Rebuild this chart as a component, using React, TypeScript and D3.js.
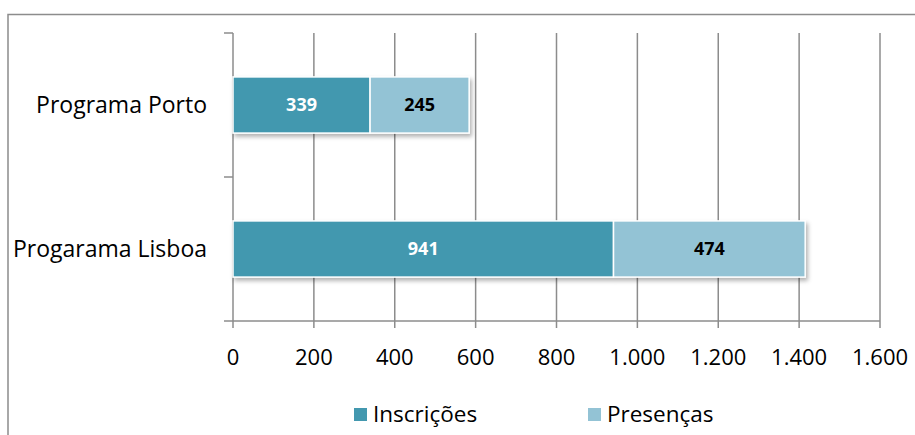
import React from "react";
import * as d3 from "d3";

const categories = ["Programa Porto", "Progarama Lisboa"];
const inscricoes = [339, 941];
const presencas = [245, 474];
const seriesNames = ["Inscrições", "Presenças"];
const xTicks = [0, 200, 400, 600, 800, 1000, 1200, 1400, 1600];

const W = 915;
const H = 435;
const colors = ["#4398AF", "#93C3D5"];
const labelColors = ["#ffffff", "#000000"];
const grid = "#8c8c8c";
const font = "'Open Sans', sans-serif";

export default function App() {
  const left = 233, right = 880, top = 33, bottom = 321;
  const x = d3.scaleLinear().domain([0, 1600]).range([left, right]);
  const y = d3.scaleBand().domain(categories).range([top, bottom]).paddingInner(0.61).paddingOuter(0.305);
  const fmt = (v: number) => d3.format(",")(v).replace(/,/g, ".");
  const stacks = categories.map((c, i) => {
    const vals = [inscricoes[i], presencas[i]];
    let acc = 0;
    return vals.map((v, s) => {
      const seg = { c, s, v, x0: acc, x1: acc + v };
      acc += v;
      return seg;
    });
  });
  const bw = y.bandwidth();
  return (
    <svg width={W} height={H} style={{ position: "absolute", left: 0, top: 0, background: "#fff" }}>
      <defs>
        <filter id="sh" x="-10%" y="-30%" width="120%" height="170%">
          <feDropShadow dx="2" dy="3" stdDeviation="2" floodColor="#000" floodOpacity="0.3" />
        </filter>
      </defs>
      <rect x={8} y={14.5} width={W + 20} height={H + 20} fill="#fff" stroke={grid} strokeWidth={1.5} />
      {/* grid */}
      {xTicks.map((t) => (
        <line key={"g" + t} x1={x(t)} x2={x(t)} y1={top} y2={bottom + 7} stroke={grid} strokeWidth={1.5} />
      ))}
      <line x1={left - 9} x2={right} y1={bottom} y2={bottom} stroke={grid} strokeWidth={1.5} />
      {[top, (top + bottom) / 2].map((yy, i) => (
        <line key={"yt" + i} x1={left - 9} x2={left} y1={yy} y2={yy} stroke={grid} strokeWidth={1.5} />
      ))}
      {/* bars */}
      {stacks.map((segs, i) => (
        <g key={"b" + i} filter="url(#sh)">
          {segs.map((sg) => (
            <rect
              key={sg.s}
              x={x(sg.x0)}
              y={y(sg.c)!}
              width={x(sg.x1) - x(sg.x0)}
              height={bw}
              fill={colors[sg.s]}
              stroke="#fff"
              strokeWidth={1.5}
            />
          ))}
        </g>
      ))}
      {stacks.map((segs, i) =>
        segs.map((sg) => (
          <text
            key={"l" + i + sg.s}
            x={(x(sg.x0) + x(sg.x1)) / 2}
            y={y(sg.c)! + bw / 2}
            dy="0.35em"
            textAnchor="middle"
            fontFamily={font}
            fontWeight="bold"
            fontSize={18}
            fill={labelColors[sg.s]}
          >
            {sg.v}
          </text>
        ))
      )}
      {/* category labels */}
      {categories.map((c) => (
        <text key={c} x={207} y={y(c)! + bw / 2} dy="0.35em" textAnchor="end" fontFamily={font} fontSize={23} fill="#000">
          {c}
        </text>
      ))}
      {/* x tick labels */}
      {xTicks.map((t) => (
        <text key={"t" + t} x={x(t)} y={357} dy="0.35em" textAnchor="middle" fontFamily={font} fontSize={22} fill="#000">
          {fmt(t)}
        </text>
      ))}
      {/* legend */}
      {seriesNames.map((n, i) => {
        const lx = [354, 588][i];
        return (
          <g key={n}>
            <rect x={lx} y={408} width={13} height={13} fill={colors[i]} />
            <text x={lx + 19} y={414.5} dy="0.35em" fontFamily={font} fontSize={22.5} fill="#000">
              {n}
            </text>
          </g>
        );
      })}
    </svg>
  );
}
